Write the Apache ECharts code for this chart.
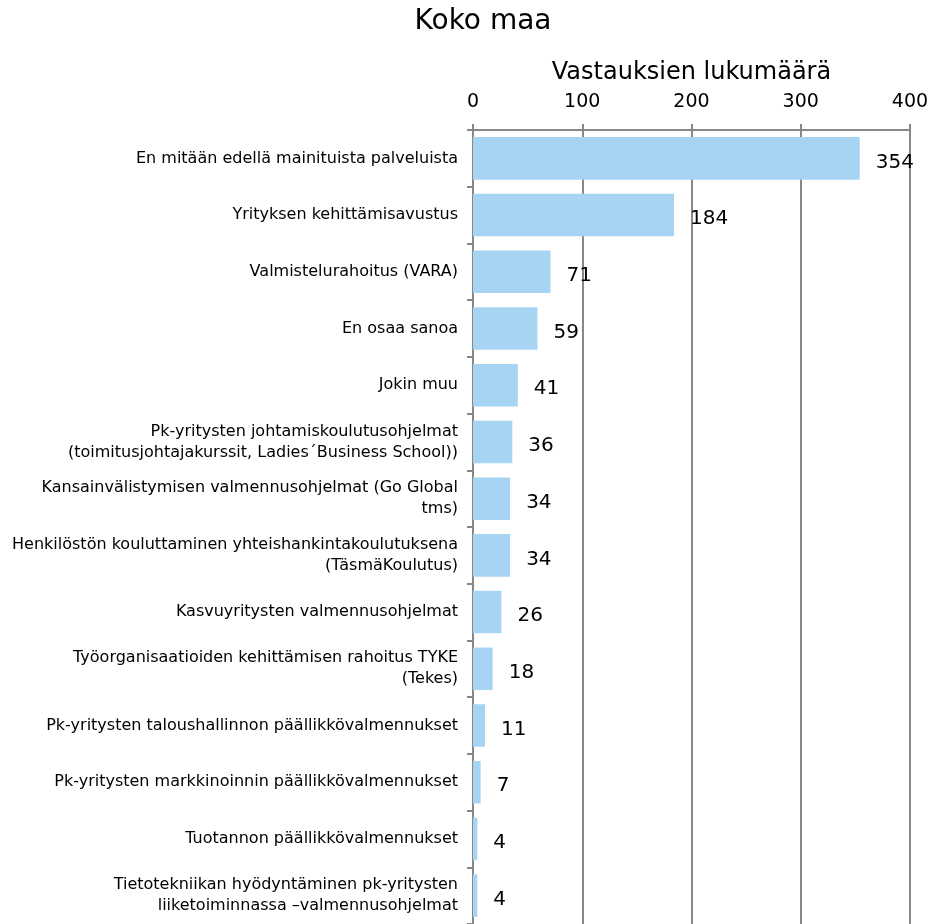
<!DOCTYPE html>
<html><head><meta charset="utf-8">
<script src="https://cdn.jsdelivr.net/npm/echarts@6/dist/echarts.min.js"></script>
<style>html,body{margin:0;padding:0;background:#fff}#c{width:932px;height:924px}</style>
</head><body><div id="c"></div>
<script>
var categories = [
  "En mitään edellä mainituista palveluista",
  "Yrityksen kehittämisavustus",
  "Valmistelurahoitus (VARA)",
  "En osaa sanoa",
  "Jokin muu",
  "Pk-yritysten johtamiskoulutusohjelmat\n(toimitusjohtajakurssit, Ladies´Business School))",
  "Kansainvälistymisen valmennusohjelmat (Go Global\ntms)",
  "Henkilöstön kouluttaminen yhteishankintakoulutuksena\n(TäsmäKoulutus)",
  "Kasvuyritysten valmennusohjelmat",
  "Työorganisaatioiden kehittämisen rahoitus TYKE\n(Tekes)",
  "Pk-yritysten taloushallinnon päällikkövalmennukset",
  "Pk-yritysten markkinoinnin päällikkövalmennukset",
  "Tuotannon päällikkövalmennukset",
  "Tietotekniikan hyödyntäminen pk-yritysten\nliiketoiminnassa –valmennusohjelmat"
];
var values = [354, 184, 71, 59, 41, 36, 34, 34, 26, 18, 11, 7, 4, 4];
var xTicks = [0, 100, 200, 300, 400];

var chart = echarts.init(document.getElementById('c'));
chart.setOption({
  animation: false,
  title: {
    text: 'Koko maa', left: 478, top: 3, textAlign: 'center',
    textStyle: {fontFamily: 'DejaVu Sans', fontSize: 28, fontWeight: 'normal', color: '#000'}
  },
  grid: {left: 473, right: 22, top: 130, height: 798, containLabel: false},
  xAxis: {
    type: 'value', position: 'top', min: xTicks[0], max: xTicks[xTicks.length-1], interval: 100,
    name: 'Vastauksien lukumäärä', nameLocation: 'middle', nameGap: 45,
    nameTextStyle: {fontFamily: 'DejaVu Sans', fontSize: 24, color: '#000'},
    axisLine: {show: true, lineStyle: {color: '#888', width: 2}},
    axisTick: {show: true, length: 6, lineStyle: {color: '#888', width: 2}},
    axisLabel: {fontFamily: 'DejaVu Sans', fontSize: 19, color: '#000', margin: 18},
    splitLine: {show: true, lineStyle: {color: '#888', width: 2}}
  },
  yAxis: {
    type: 'category', data: categories, inverse: true,
    axisLine: {show: true, lineStyle: {color: '#888', width: 2}},
    axisTick: {show: true, length: 6, lineStyle: {color: '#888', width: 2}},
    axisLabel: {fontFamily: 'DejaVu Sans', fontSize: 16, color: '#000', margin: 15, lineHeight: 21, align: 'right'}
  },
  series: [{
    type: 'bar', data: values, barCategoryGap: '25%',
    itemStyle: {color: '#A8D4F4'},
    label: {show: true, position: 'right', distance: 16, offset: [0, 4],
      fontFamily: 'DejaVu Sans', fontSize: 20, color: '#000'}
  }]
});
</script></body></html>
